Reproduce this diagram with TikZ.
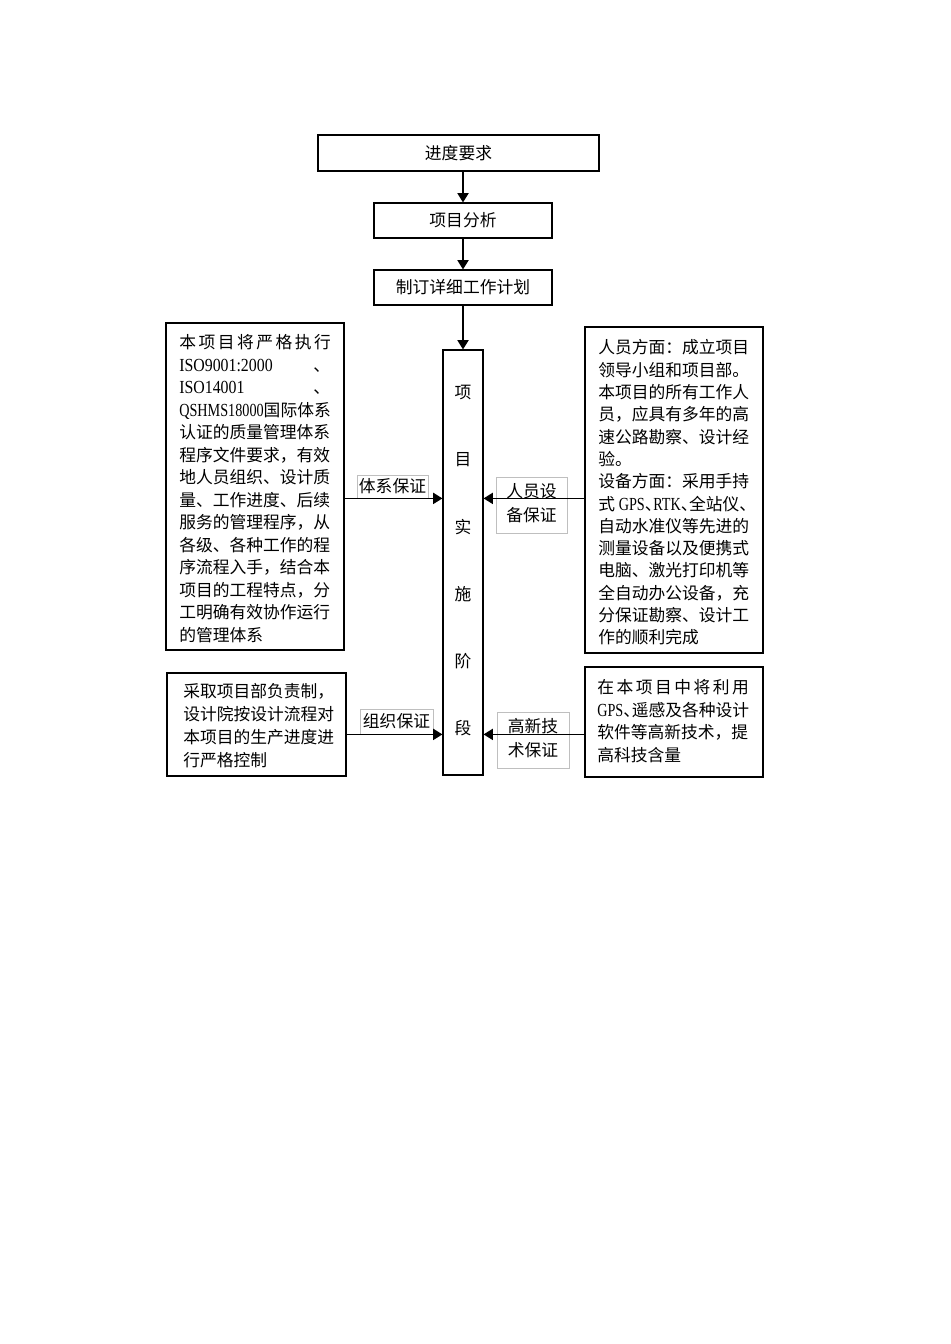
\documentclass[tikz,border=0pt]{standalone}
\usepackage{fontspec}
\setmainfont{Noto Sans CJK SC}
\newfontfamily\lat{Liberation Serif}[Scale=1.1,FakeStretch=0.86]
\newfontfamily\latn{Liberation Serif}[Scale=1.1,FakeStretch=0.77]
\usetikzlibrary{arrows.meta}
\newlength\lw \setlength\lw{94.5pt}
\newcommand\dun{\makebox[0.5em][l]{、}}
\newcommand\jl[1]{\makebox[\lw][s]{#1}}
\newcommand\twol[2]{\raisebox{2pt}{\begin{tabular}{@{}c@{}}#1\\[0.6pt]#2\end{tabular}}}
\begin{document}
\begin{tikzpicture}[x=0.6264pt,y=-0.6264pt,
  font=\fontsize{10.5pt}{14pt}\selectfont,
  box/.style 2 args={draw,line width=0.75pt,inner sep=0,minimum width=#1*0.6264pt,minimum height=#2*0.6264pt},
  lab/.style 2 args={draw=gray!50,line width=0.5pt,inner sep=0,align=center,minimum width=#1*0.6264pt,minimum height=#2*0.6264pt},
  tl/.style={anchor=west,inner sep=0,text height=9pt,text depth=1.5pt},
  arr/.style={line width=0.8pt,-{Triangle[length=5.8pt,width=7pt]}}]
\useasboundingbox (0,0) rectangle (950,1344);
% main boxes
\node[box={281}{36}] (req) at (458.5,153) {进度要求};
\node[box={178}{35}] (ana) at (463,220.5) {项目分析};
\node[box={178}{35}] (plan) at (463,287.5) {制订详细工作计划};
\node[box={40}{425}] (impl) at (463,562.5) {};
\node[box={178}{327}] (sys) at (255,486.5) {};
\node[box={179}{103}] (org) at (256.5,724.5) {};
\node[box={178}{326}] (staff) at (674,490) {};
\node[box={178}{110}] (tech) at (674,722) {};
% labels on connectors
\node[lab={71}{23}] (lsys) at (392.5,486.5) {体系保证};
\node[lab={71}{56}] (lstaff) at (531.5,505) {\twol{人员设}{备保证}};
\node[lab={73}{25}] (lorg) at (396.5,721.5) {组织保证};
\node[lab={72}{56}] (ltech) at (533,740) {\twol{高新技}{术保证}};
% connectors
\draw[arr] (req.south -| ana.north) -- (ana.north);
\draw[arr] (ana.south) -- (plan.north);
\draw[arr] (plan.south) -- (impl.north);
\draw[arr] (sys.east |- lsys.south) -- (impl.west |- lsys.south);
\draw[arr] (staff.west |- lsys.south) -- (impl.east |- lsys.south);
\draw[arr] (org.east |- lorg.south) -- (impl.west |- lorg.south);
\draw[arr] (tech.west |- lorg.south) -- (impl.east |- lorg.south);
% vertical text
\foreach \t/\yy [count=\i] in {项/392,目/460,实/527,施/594,阶/661,段/728}
  \node[inner sep=0] (st\i) at (463,\yy) {\t};
% left box 1
\foreach \t [count=\i] in {
  {\jl{本 项 目 将 严 格 执 行}},
  {\makebox[\lw][l]{{\lat ISO9001:2000}\hfill 、}},
  {\makebox[\lw][l]{{\lat ISO14001}\hfill 、}},
  {{\latn QSHMS18000}国际体系},
  {认证的质量管理体系},
  {程序文件要求，有效},
  {地人员组织、设计质},
  {量、工作进度、后续},
  {服务的管理程序，从},
  {各级、各种工作的程},
  {序流程入手，结合本},
  {项目的工程特点，分},
  {工明确有效协作运行},
  {的管理体系}}
  \node[tl] (sysl\i) at (179,{343+22.5*(\i-1)}) {\t};
% right box 1
\foreach \t [count=\i] in {
  {人员方面：成立项目},
  {领导小组和项目部。},
  {本项目的所有工作人},
  {员，应具有多年的高},
  {速公路勘察、设计经},
  {验。},
  {设备方面：采用手持},
  {式 {\latn GPS}\dun{\latn RTK}\dun 全站仪\dun},
  {自动水准仪等先进的},
  {测量设备以及便携式},
  {电脑、激光打印机等},
  {全自动办公设备，充},
  {分保证勘察、设计工},
  {作的顺利完成}}
  \node[tl] (stl\i) at (598,{348+22.3*(\i-1)}) {\t};
% left box 2
\foreach \t [count=\i] in {
  {采取项目部负责制，},
  {设计院按设计流程对},
  {本项目的生产进度进},
  {行严格控制}}
  \node[tl] (orgl\i) at (183,{692+23*(\i-1)}) {\t};
% right box 2
\foreach \t [count=\i] in {
  {\jl{在 本 项 目 中 将 利 用}},
  {{\latn GPS}\dun 遥感及各种设计},
  {软件等高新技术，提},
  {高科技含量}}
  \node[tl] (tcl\i) at (597,{688+22.5*(\i-1)}) {\t};
\end{tikzpicture}
\end{document}
